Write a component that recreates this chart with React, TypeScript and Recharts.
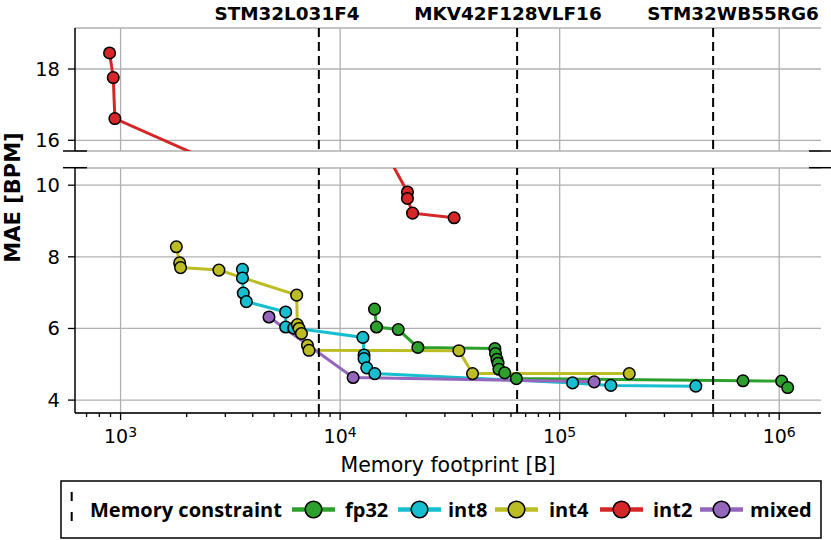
import React from "react";
import {
  LineChart,
  Line,
  XAxis,
  YAxis,
  CartesianGrid,
  ReferenceLine,
} from "recharts";

// memory footprint [B] / MAE [BPM]
const fp32X = [14350, 14650, 18400, 22600, 50700, 51000, 51800, 52400, 52900, 56200, 63500, 684000, 1026000, 1093000];
const fp32Y = [6.54, 6.04, 5.97, 5.47, 5.44, 5.3, 5.14, 5.03, 4.86, 4.76, 4.6, 4.54, 4.53, 4.35];

const int8X = [3590, 3590, 3622, 3740, 5650, 5650, 6150, 12700, 12850, 12850, 13220, 14380, 114500, 171000, 417000];
const int8Y = [7.65, 7.41, 6.99, 6.75, 6.46, 6.04, 6.01, 5.75, 5.26, 5.16, 4.9, 4.74, 4.48, 4.41, 4.39];

const int4X = [1795, 1858, 1876, 2805, 6340, 6385, 6500, 6665, 7100, 7215, 34750, 40100, 207500];
const int4Y = [8.28, 7.83, 7.7, 7.63, 6.93, 6.11, 6.0, 5.86, 5.53, 5.39, 5.38, 4.74, 4.74];

const int2X = [891, 926, 942, 8550, 20260, 20260, 21370, 33060];
const int2Y = [18.45, 17.76, 16.61, 14.0, 9.81, 9.63, 9.22, 9.09];

const mixedX = [4742, 11460, 143600];
const mixedY = [6.32, 4.63, 4.51];

const constraintX = [8000, 64000, 500000];
const deviceNames = ["STM32L031F4", "MKV42F128VLF16", "STM32WB55RG6"];

const decades = [1000, 10000, 100000, 1000000];
const minorSteps = [2, 3, 4, 5, 6, 7, 8, 9];
const xTicks = [700, 800, 900, ...decades.flatMap((d) => (d < 1000000 ? [d, ...minorSteps.map((m) => m * d)] : [d]))];

const upperTicks = [16, 18];
const lowerTicks = [4, 6, 8, 10];

const xDomain: [number, number] = [620, 1550000];
const upperDomain: [number, number] = [15.7, 19.15];
const lowerDomain: [number, number] = [3.64, 10.48];

const toRows = (xs: number[], ys: number[]) => xs.map((x, i) => ({ x, y: ys[i] }));

const series = [
  { name: "fp32", color: "#2ca02c", data: toRows(fp32X, fp32Y) },
  { name: "int8", color: "#17becf", data: toRows(int8X, int8Y) },
  { name: "int4", color: "#bcbd22", data: toRows(int4X, int4Y) },
  { name: "int2", color: "#d62728", data: toRows(int2X, int2Y) },
  { name: "mixed", color: "#9467bd", data: toRows(mixedX, mixedY) },
];

const DEJAVU = "'DejaVu Sans', sans-serif";
const LEGEND_FONT = "'Open Sans', 'Noto Sans', sans-serif";
const W = 831;
const H = 540;

function LogTick(props: any) {
  const { x, y, payload } = props;
  const v = payload.value as number;
  const e = Math.round(Math.log10(v));
  const major = Math.abs(v - Math.pow(10, e)) < 1e-6 * v;
  return (
    <g>
      <line x1={x} x2={x} y1={y} y2={y + (major ? 7 : 4)} stroke="#000" strokeWidth={1.3} />
      {major && (
        <text x={x} y={y + 30} textAnchor="middle" fontSize={19} fill="#000">
          <tspan>10</tspan>
          <tspan dy={-6} fontSize={14}>
            {e}
          </tspan>
        </text>
      )}
    </g>
  );
}

function renderLines() {
  return series.map((s) => (
    <Line
      key={s.name}
      data={s.data}
      dataKey="y"
      type="linear"
      stroke={s.color}
      strokeWidth={3}
      dot={{ r: 5.8, fill: s.color, stroke: "#000", strokeWidth: 1.5 }}
      activeDot={false}
      isAnimationActive={false}
    />
  ));
}

function gridX() {
  return decades.map((d) => <ReferenceLine key={"g" + d} x={d} stroke="#b0b0b0" strokeWidth={1.3} />);
}

function constraintLines() {
  return constraintX.map((c) => (
    <ReferenceLine key={"c" + c} x={c} stroke="#000" strokeWidth={2} strokeDasharray="9 5" />
  ));
}

const yTick = { fontSize: 19.5, fill: "#000" };

function Legend() {
  const items = [
    { s: series[0], x: 292, tx: 345 },
    { s: series[1], x: 398, tx: 448 },
    { s: series[2], x: 495, tx: 549 },
    { s: series[3], x: 600, tx: 653 },
    { s: series[4], x: 700, tx: 750 },
  ];
  const cy = 509.5;
  return (
    <g>
      <rect x={61} y={481} width={760} height={57} fill="#fff" stroke="#000" strokeWidth={1.5} />
      <line x1={71.7} x2={71.7} y1={492} y2={522} stroke="#000" strokeWidth={2} strokeDasharray="9 11" />
      <text x={90} y={517.3} fontFamily={LEGEND_FONT} fontWeight="bold" fontSize={20}>
        Memory constraint
      </text>
      {items.map(({ s, x, tx }) => (
        <g key={s.name}>
          <line x1={x} x2={x + 43} y1={cy} y2={cy} stroke={s.color} strokeWidth={4.5} />
          <circle cx={x + 21.5} cy={cy} r={8.3} fill={s.color} stroke="#000" strokeWidth={1.5} />
          <text x={tx} y={517.3} fontFamily={LEGEND_FONT} fontWeight="bold" fontSize={20}>
            {s.name}
          </text>
        </g>
      ))}
    </g>
  );
}

export default function App() {
  const devCenters = [287, 508, 733];
  return (
    <div
      style={{
        position: "absolute",
        left: 0,
        top: 0,
        width: W,
        height: H,
        background: "#fff",
        fontFamily: DEJAVU,
      }}
    >
      {/* upper panel: int2 outliers */}
      <div style={{ position: "absolute", left: 0, top: 0 }}>
        <LineChart width={W} height={H} margin={{ top: 28, right: 10, bottom: 389, left: 0 }}>
          <CartesianGrid vertical={false} stroke="#b0b0b0" strokeWidth={1.3} strokeDasharray="" />
          <XAxis
            dataKey="x"
            type="number"
            scale="log"
            domain={xDomain}
            allowDataOverflow
            orientation="top"
            height={0}
            tick={false}
            tickLine={false}
            axisLine={{ stroke: "#000", strokeWidth: 1.5 }}
          />
          <YAxis
            type="number"
            domain={upperDomain}
            allowDataOverflow
            ticks={upperTicks}
            width={75}
            tick={yTick}
            tickSize={7}
            tickMargin={8}
            tickLine={{ stroke: "#000", strokeWidth: 1.3 }}
            axisLine={{ stroke: "#000", strokeWidth: 1.5 }}
          />
          <YAxis
            yAxisId="r"
            orientation="right"
            type="number"
            domain={upperDomain}
            allowDataOverflow
            width={0}
            tick={false}
            tickLine={false}
            axisLine={{ stroke: "#000", strokeWidth: 1.5 }}
          />
          {gridX()}
          {renderLines()}
          {constraintLines()}
        </LineChart>
      </div>

      {/* lower panel */}
      <div style={{ position: "absolute", left: 0, top: 0 }}>
        <LineChart width={W} height={H} margin={{ top: 168, right: 10, bottom: 67, left: 0 }}>
          <CartesianGrid vertical={false} stroke="#b0b0b0" strokeWidth={1.3} strokeDasharray="" />
          <XAxis
            dataKey="x"
            type="number"
            scale="log"
            domain={xDomain}
            allowDataOverflow
            ticks={xTicks}
            interval={0}
            height={60}
            tick={<LogTick />}
            tickSize={0}
            tickMargin={0}
            tickLine={false}
            axisLine={{ stroke: "#000", strokeWidth: 1.5 }}
            label={{ value: "Memory footprint [B]", position: "insideBottom", offset: 1, fontSize: 20.5, fill: "#000" }}
          />
          <YAxis
            type="number"
            domain={lowerDomain}
            allowDataOverflow
            ticks={lowerTicks}
            width={75}
            tick={yTick}
            tickSize={7}
            tickMargin={8}
            tickLine={{ stroke: "#000", strokeWidth: 1.3 }}
            axisLine={{ stroke: "#000", strokeWidth: 1.5 }}
          />
          <YAxis
            yAxisId="r"
            orientation="right"
            type="number"
            domain={lowerDomain}
            allowDataOverflow
            width={0}
            tick={false}
            tickLine={false}
            axisLine={{ stroke: "#000", strokeWidth: 1.5 }}
          />
          {gridX()}
          {renderLines()}
          {constraintLines()}
        </LineChart>
      </div>

      {/* decorations: axis break marks, device names, y label, legend */}
      <svg
        width={W}
        height={H}
        style={{ position: "absolute", left: 0, top: 0, pointerEvents: "none" }}
      >
        {[151, 167.7].map((y) => (
          <g key={y}>
            <line x1={63} x2={87} y1={y} y2={y} stroke="#000" strokeWidth={1.5} />
            <line x1={809} x2={833} y1={y} y2={y} stroke="#000" strokeWidth={1.5} />
          </g>
        ))}
        {deviceNames.map((n, i) => (
          <text
            key={n}
            x={devCenters[i]}
            y={20}
            textAnchor="middle"
            fontFamily={DEJAVU}
            fontWeight="bold"
            fontSize={18.4}
          >
            {n}
          </text>
        ))}
        <text
          x={20}
          y={197.5}
          transform="rotate(-90 20 197.5)"
          textAnchor="middle"
          fontFamily={DEJAVU}
          fontWeight="bold"
          fontSize={21}
        >
          MAE [BPM]
        </text>
        <Legend />
      </svg>
    </div>
  );
}
